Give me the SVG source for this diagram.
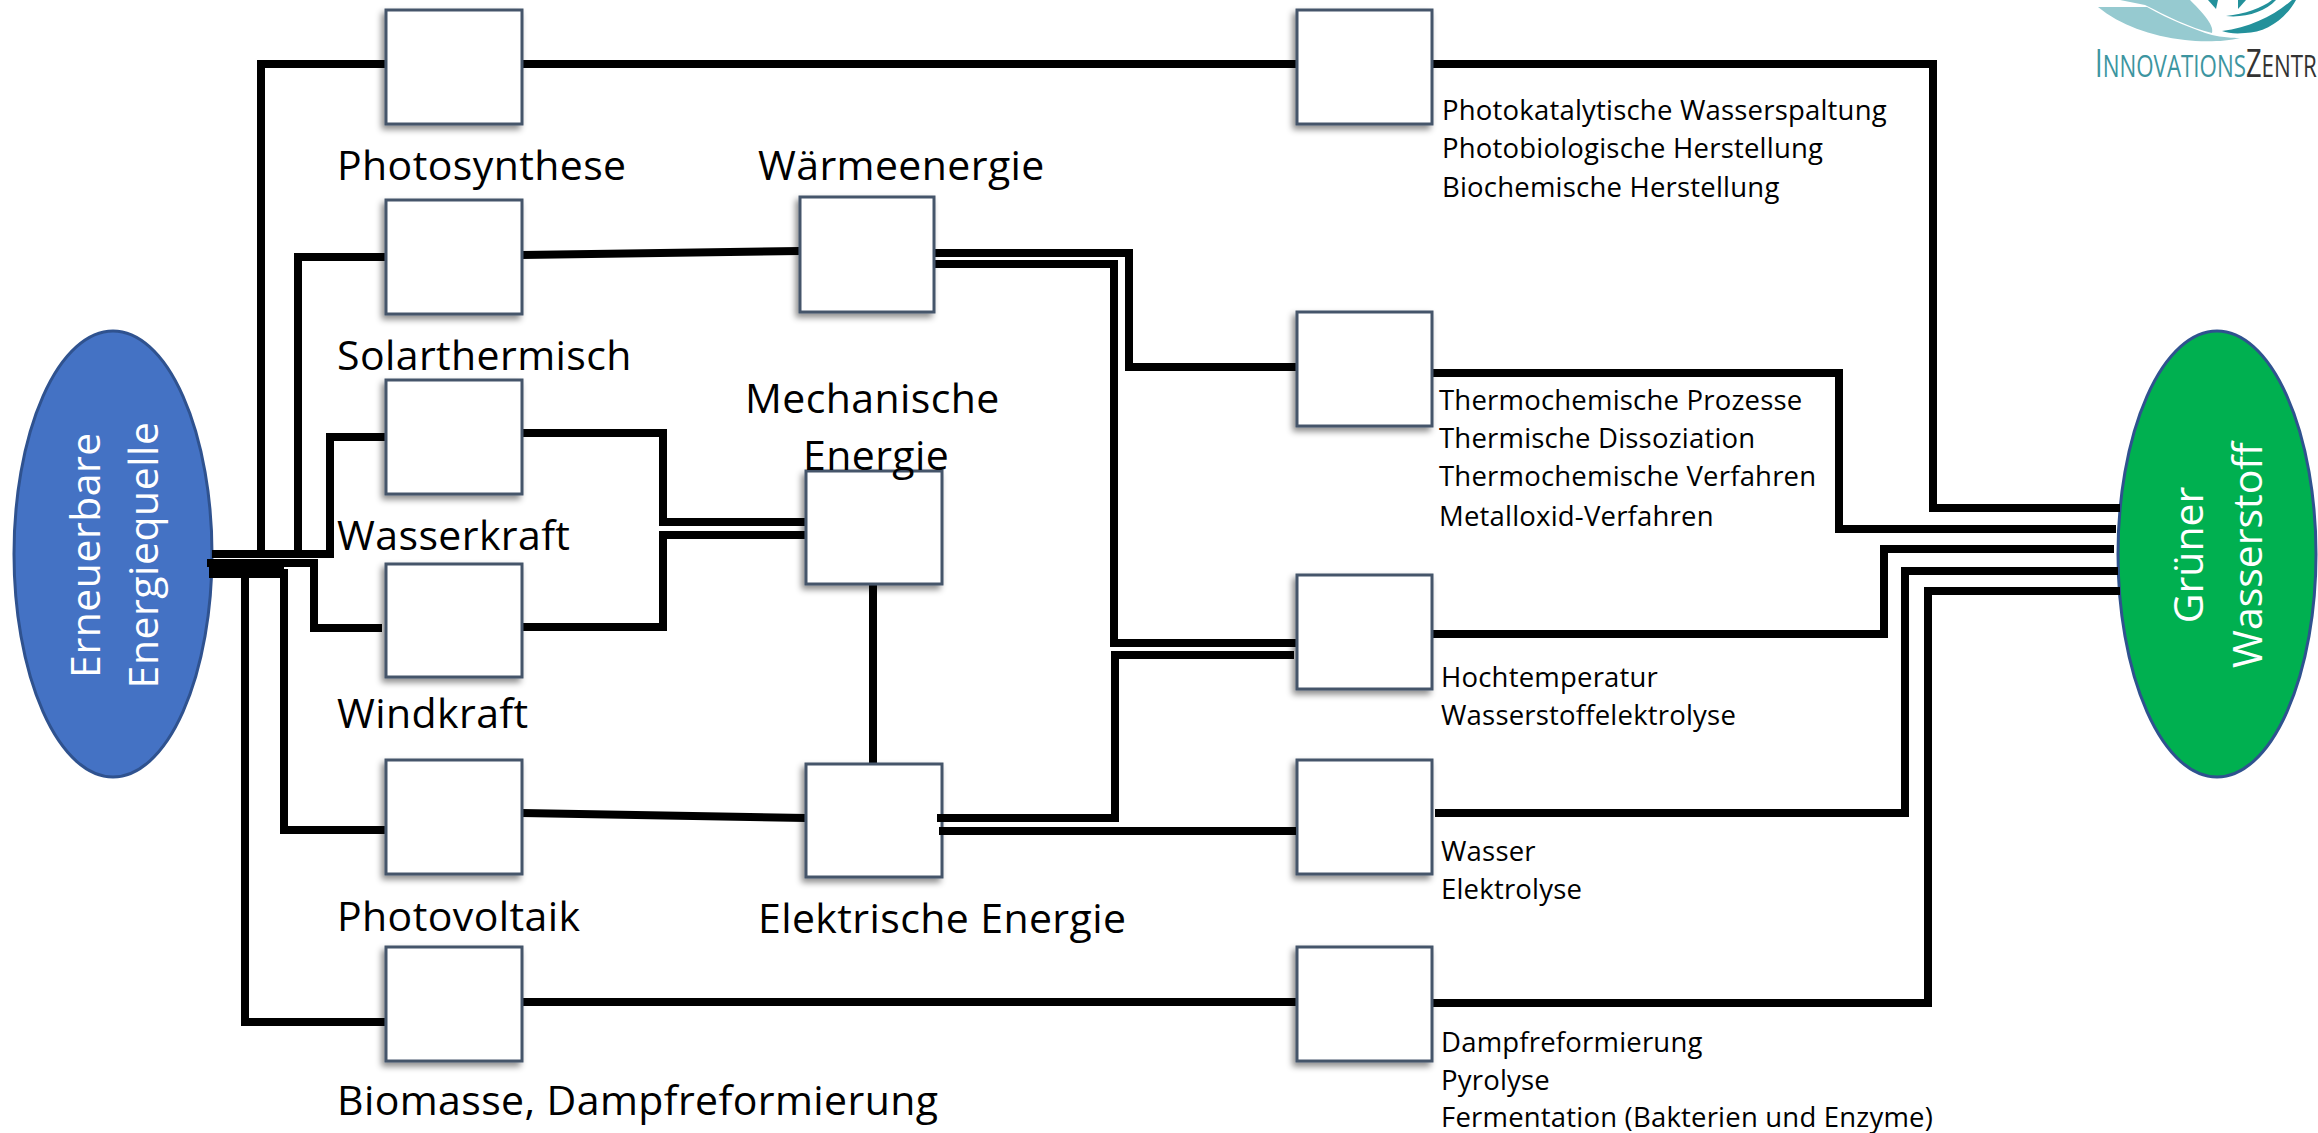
<svg xmlns="http://www.w3.org/2000/svg" width="2318" height="1133" viewBox="0 0 2318 1133">
<defs>
<filter id="sh" x="-15%" y="-15%" width="130%" height="130%"><feDropShadow dx="-3" dy="4" stdDeviation="3" flood-color="#000" flood-opacity="0.45"/></filter>
</defs>
<style>
.l{font-family:"Open Sans","Noto Sans",sans-serif;font-size:41px;letter-spacing:.4px;fill:#000}
.s{font-family:"Open Sans","Noto Sans",sans-serif;font-size:27.5px;letter-spacing:.2px;fill:#000}
.e{font-family:"Open Sans","Noto Sans",sans-serif;font-size:41px;fill:#fff;text-anchor:middle}
.b{fill:#fff;stroke:#44546A;stroke-width:3;filter:url(#sh)}
.c{fill:none;stroke:#000;stroke-width:8;stroke-miterlimit:10}
</style>
<rect width="2318" height="1133" fill="#fff"/>
<g id="logo">
<path d="M2098 7C2120 7 2140 7 2147 7C2170 20 2195 30 2212 35C2225 38 2240 38 2240 38C2225 42 2200 42 2185 40C2150 36 2120 25 2098 7Z" fill="#96CAD0"/>
<path d="M2120 0L2190 0C2200 10 2215 25 2212 33C2190 28 2165 15 2145 5Z" fill="#96CAD0"/>
<path d="M2222 31C2250 28 2275 15 2292 0L2296 0C2285 20 2265 33 2245 33C2235 34 2228 33 2222 31Z" fill="#23919B"/>
<path d="M2226 16C2245 14 2262 8 2272 0L2276 0C2265 12 2245 18 2226 16Z" fill="#23919B"/>
<path d="M2208 0L2218 0L2216 9Z" fill="#23919B"/>
<path d="M2238 0L2246 0L2238 9Z" fill="#23919B"/>
<text transform="translate(2095 77) scale(.72 1)" font-family="'Open Sans','Liberation Sans',sans-serif" font-size="31"><tspan fill="#3C95A0" font-size="38">I</tspan><tspan fill="#3C95A0">NNOVATIONS</tspan><tspan fill="#333" font-size="38">Z</tspan><tspan fill="#333">ENTR</tspan></text>
</g>
<g id="n-quelle"><ellipse cx="113" cy="554" rx="99" ry="223" fill="#4472C4" stroke="#2F528F" stroke-width="3"/>
<text class="e" transform="translate(100 555) rotate(-90)" letter-spacing=".5">Erneuerbare</text>
<text class="e" transform="translate(158 555) rotate(-90)" letter-spacing=".5">Energiequelle</text></g>
<g id="n-wasserstoff"><ellipse cx="2217" cy="554" rx="99" ry="223" fill="#00B050" stroke="#2F528F" stroke-width="3"/>
<text class="e" transform="translate(2203 555) rotate(-90)">Grüner</text>
<text class="e" transform="translate(2262 555) rotate(-90)">Wasserstoff</text></g>
<g id="connectors">
<path class="c" d="M212 554H261V64H386"/>
<path class="c" d="M261 554H298V257H386"/>
<path class="c" d="M298 554H330V437H386"/>
<path class="c" d="M207 563H314V628H382"/>
<path class="c" d="M209 573H284V830H386"/>
<path d="M209 567H284V578H209Z" fill="#000"/>
<path class="c" d="M245 573V1022H386"/>
<path class="c" d="M522 64H1297"/>
<path class="c" d="M522 255L800 251"/>
<path class="c" d="M522 433H663V522H806"/>
<path class="c" d="M522 627H663V535H806"/>
<path class="c" d="M522 813L806 818"/>
<path class="c" d="M873 584V764"/>
<path class="c" d="M934 253H1129V367H1296"/>
<path class="c" d="M934 264H1114V643H1296"/>
<path class="c" d="M522 1002H1297"/>
<path class="c" d="M1432 64H1933V508H2120"/>
<path class="c" d="M1432 373H1839V529H2116"/>
<path class="c" d="M1432 634H1884V549H2114"/>
<path class="c" d="M1435 813H1905V571H2118"/>
<path class="c" d="M1432 1003H1928V591H2120"/>
</g>
<g id="n-photosynthese"><rect class="b" x="386" y="10" width="136" height="114"/><text class="l" x="337" y="180">Photosynthese</text></g>
<g id="n-solar"><rect class="b" x="386" y="200" width="136" height="114"/><text class="l" x="337" y="370">Solarthermisch</text></g>
<g id="n-wasserkraft"><rect class="b" x="386" y="380" width="136" height="114"/><text class="l" x="337" y="550">Wasserkraft</text></g>
<g id="n-windkraft"><rect class="b" x="386" y="564" width="136" height="113"/><text class="l" x="337" y="728">Windkraft</text></g>
<g id="n-pv"><rect class="b" x="386" y="760" width="136" height="114"/><text class="l" x="337" y="931">Photovoltaik</text></g>
<g id="n-biomasse"><rect class="b" x="386" y="947" width="136" height="114"/><text class="l" x="337" y="1115">Biomasse, Dampfreformierung</text></g>
<g id="n-waerme"><rect class="b" x="800" y="197" width="134" height="115"/><text class="l" x="758" y="180">Wärmeenergie</text></g>
<g id="n-mech"><rect class="b" x="806" y="471" width="136" height="113"/><text class="l" x="745" y="413">Mechanische</text><text class="l" x="803" y="470">Energie</text></g>
<g id="n-elek"><rect class="b" x="806" y="764" width="136" height="113"/><text class="l" x="758" y="933">Elektrische Energie</text></g>
<g id="n-p1"><rect class="b" x="1297" y="10" width="135" height="114"/><text class="s" x="1442" y="120">Photokatalytische Wasserspaltung</text><text class="s" x="1442" y="158">Photobiologische Herstellung</text><text class="s" x="1442" y="197">Biochemische Herstellung</text></g>
<g id="n-p2"><rect class="b" x="1297" y="312" width="135" height="114"/><text class="s" x="1439" y="410">Thermochemische Prozesse</text><text class="s" x="1439" y="448">Thermische Dissoziation</text><text class="s" x="1439" y="486">Thermochemische Verfahren</text><text class="s" x="1439" y="526">Metalloxid-Verfahren</text></g>
<g id="n-p3"><rect class="b" x="1297" y="575" width="135" height="114"/><text class="s" x="1441" y="687">Hochtemperatur</text><text class="s" x="1441" y="725">Wasserstoffelektrolyse</text></g>
<g id="n-p4"><rect class="b" x="1297" y="760" width="135" height="114"/><text class="s" x="1441" y="861">Wasser</text><text class="s" x="1441" y="899">Elektrolyse</text></g>
<g id="n-p5"><rect class="b" x="1297" y="947" width="135" height="114"/><text class="s" x="1441" y="1052">Dampfreformierung</text><text class="s" x="1441" y="1090">Pyrolyse</text><text class="s" x="1441" y="1127">Fermentation (Bakterien und Enzyme)</text></g>
<g id="connectors-over">
<path class="c" d="M937 818H1115V655H1294"/>
<path class="c" d="M939 831H1296"/>
</g>
</svg>
